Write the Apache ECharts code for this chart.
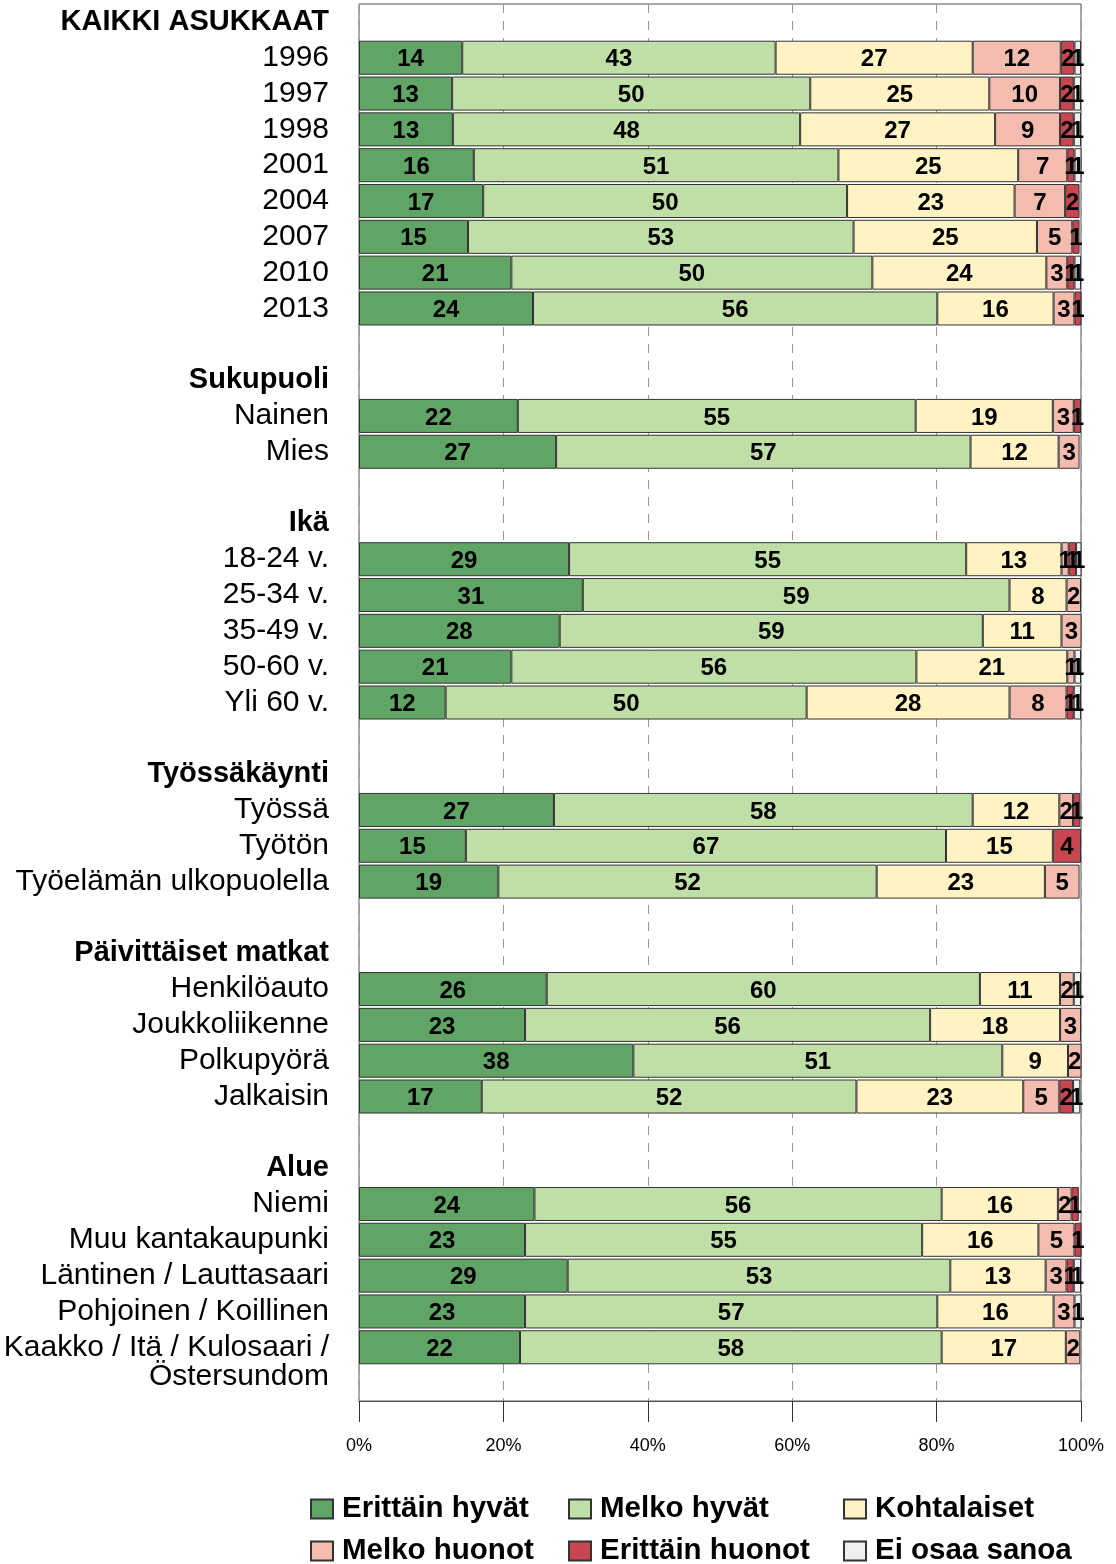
<!DOCTYPE html>
<html>
<head>
<meta charset="utf-8">
<script src="https://cdn.jsdelivr.net/npm/echarts@6/dist/echarts.min.js"></script>
<style>html,body{margin:0;padding:0;background:#fff}#main{width:1116px;height:1564px}</style>
</head>
<body>
<div id="main"></div>
<script>
// rivit ylhäältä alas, otsikot ja tyhjät välirivit mukana
let rivit = [
  'KAIKKI ASUKKAAT', '1996', '1997', '1998', '2001', '2004', '2007', '2010', '2013',
  ' ', 'Sukupuoli', 'Nainen', 'Mies',
  '  ', 'Ikä', '18-24 v.', '25-34 v.', '35-49 v.', '50-60 v.', 'Yli 60 v.',
  '   ', 'Työssäkäynti', 'Työssä', 'Työtön', 'Työelämän ulkopuolella',
  '    ', 'Päivittäiset matkat', 'Henkilöauto', 'Joukkoliikenne', 'Polkupyörä', 'Jalkaisin',
  '     ', 'Alue', 'Niemi', 'Muu kantakaupunki', 'Läntinen / Lauttasaari', 'Pohjoinen / Koillinen',
  '\nKaakko / Itä / Kulosaari /\nÖstersundom',
  '      '
];
let otsikot = ['KAIKKI ASUKKAAT', 'Sukupuoli', 'Ikä', 'Työssäkäynti', 'Päivittäiset matkat', 'Alue'];

let sarjat = ['Erittäin hyvät', 'Melko hyvät', 'Kohtalaiset', 'Melko huonot', 'Erittäin huonot', 'Ei osaa sanoa'];
let varit = ['#60a466', '#bfdfa7', '#fff3c3', '#f4bcae', '#c8464f', '#efefef'];

let erittainHyvat = [null, 14.3, 12.9, 13.0, 15.9, 17.2, 15.1, 21.1, 24.1, null, null, 22.0, 27.3, null, null, 29.1, 31.0, 27.8, 21.1, 12.0, null, null, 27.0, 14.8, 19.3, null, null, 26.0, 23.0, 38.0, 17.0, null, null, 24.3, 23.0, 28.9, 23.0, 22.3, null];
let melkoHyvat = [null, 43.4, 49.6, 48.1, 50.5, 50.4, 53.4, 50.0, 56.0, null, null, 55.1, 57.4, null, null, 55.0, 59.1, 58.6, 56.1, 50.0, null, null, 58.0, 66.5, 52.4, null, null, 60.0, 56.1, 51.1, 51.9, null, null, 56.4, 55.0, 53.0, 57.1, 58.4, null];
let kohtalaiset = [null, 27.3, 24.8, 27.0, 24.9, 23.2, 25.4, 24.1, 16.1, null, null, 19.0, 12.2, null, null, 13.2, 7.9, 10.9, 20.9, 28.1, null, null, 12.0, 14.8, 23.3, null, null, 11.1, 18.0, 9.1, 23.1, null, null, 16.1, 16.1, 13.2, 16.1, 17.2, null];
let melkoHuonot = [null, 12.2, 9.8, 9.0, 6.8, 7.0, 4.9, 2.9, 2.9, null, null, 2.9, 2.9, null, null, 1.0, 2.0, 3.0, 1.0, 7.9, null, null, 1.9, 0, 4.8, null, null, 1.9, 2.9, 2.0, 5.0, null, null, 1.9, 5.0, 2.9, 2.9, 2.0, null];
let erittainHuonot = [null, 1.9, 1.9, 1.9, 1.0, 2.0, 1.0, 1.0, 1.0, null, null, 1.0, 0, null, null, 1.0, 0, 0, 0, 1.0, null, null, 1.0, 3.9, 0, null, null, 0, 0, 0, 1.9, null, null, 1.0, 1.0, 1.0, 0, 0, null];
let eiOsaa = [null, 0.9, 1.0, 1.0, 1.0, 0, 0, 0.9, 0, null, null, 0, 0, null, null, 0.9, 0, 0, 0.9, 1.0, null, null, 0, 0, 0, null, null, 1.0, 0, 0, 1.0, null, null, 0, 0, 1.0, 1.0, 0, null];

let xTikit = [0, 20, 40, 60, 80, 100];

let arvot = [erittainHyvat, melkoHyvat, kohtalaiset, melkoHuonot, erittainHuonot, eiOsaa];
let fontti = 'Liberation Sans, Arial, sans-serif';

let chartDom = document.getElementById('main');
let myChart = echarts.init(chartDom);

// legenda: kaksi riviä, kolme saraketta
let legendX = [310, 568, 843];
let legendY = [1494, 1536];
let legendat = sarjat.map(function (nimi, i) {
  return {
    data: [nimi],
    left: legendX[i % 3],
    top: legendY[Math.floor(i / 3)],
    itemWidth: 22,
    itemHeight: 19,
    icon: 'rect',
    padding: 0,
    selectedMode: false,
    textStyle: { fontFamily: fontti, fontSize: 29.5, fontWeight: 'bold', color: '#000', padding: [0, 0, 0, 4] }
  };
});

let option = {
  animation: false,
  backgroundColor: '#fff',
  legend: legendat,
  grid: {
    left: 359,
    right: 35,
    top: 4,
    bottom: 163,
    show: true,
    borderColor: '#555',
    borderWidth: 1
  },
  xAxis: {
    type: 'value',
    min: 0,
    max: 100,
    interval: 20,
    axisLine: { show: true, lineStyle: { color: '#555' } },
    axisTick: { show: true, length: 21, lineStyle: { color: '#333' } },
    axisLabel: {
      margin: 36,
      fontFamily: fontti,
      fontSize: 18,
      color: '#000',
      formatter: function (v) { return xTikit.indexOf(v) >= 0 ? v + '%' : ''; }
    },
    splitLine: { show: true, lineStyle: { color: '#999', type: [9, 8] } }
  },
  yAxis: {
    type: 'category',
    inverse: true,
    data: rivit.map(function (r) {
      return otsikot.indexOf(r) >= 0 ? { value: r, textStyle: { fontWeight: 'bold', fontSize: 29 } } : r;
    }),
    axisLine: { show: false },
    axisTick: { show: false },
    axisLabel: {
      interval: 0,
      margin: 30,
      fontFamily: fontti,
      fontSize: 30,
      lineHeight: 29,
      padding: [5, 0, 0, 0],
      color: '#000'
    }
  },
  series: sarjat.map(function (nimi, i) {
    return {
      name: nimi,
      type: 'bar',
      stack: 'kaikki',
      barCategoryGap: '5%',
      itemStyle: { color: varit[i], borderColor: '#333', borderWidth: 1 },
      label: {
        show: true,
        position: 'inside',
        offset: [0, 2],
        fontFamily: fontti,
        fontSize: 24,
        fontWeight: 'bold',
        color: '#000',
        formatter: function (p) {
          let v = Math.round(p.value);
          return v > 0 ? String(v) : '';
        }
      },
      data: arvot[i].map(function (v) { return v ? v : '-'; })
    };
  })
};

option && myChart.setOption(option);
</script>
</body>
</html>
